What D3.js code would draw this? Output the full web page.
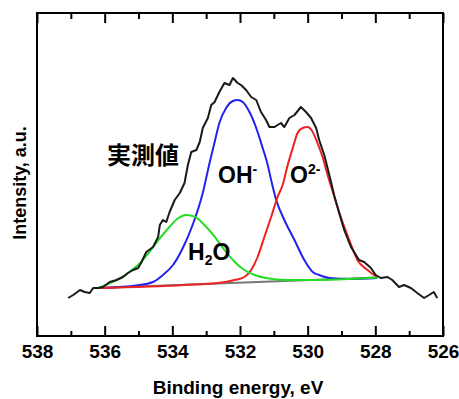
<!DOCTYPE html>
<html>
<head>
<meta charset="utf-8">
<script src="https://cdn.jsdelivr.net/npm/d3@7"></script>
<style>
  body { margin: 0; background: #fff; }
  svg text { font-family: "Liberation Sans", Arial, sans-serif; font-weight: bold; fill: #000; }
</style>
</head>
<body>
<svg id="chart" width="459" height="399"></svg>
<script>
// measured spectrum (binding energy in eV, intensity in a.u.)
const measE = [537.08, 536.93, 536.73, 536.59, 536.44, 536.34, 536.19, 536.05, 535.85, 535.65,
  535.46, 535.31, 535.16, 535.01, 534.91, 534.77, 534.57, 534.42, 534.37, 534.28,
  534.18, 534.08, 533.93, 533.78, 533.64, 533.54, 533.44, 533.29, 533.19, 533.10,
  532.95, 532.85, 532.75, 532.61, 532.46, 532.31, 532.21, 532.07, 531.97, 531.82,
  531.67, 531.52, 531.38, 531.23, 531.13, 530.98, 530.89, 530.79, 530.69, 530.54,
  530.39, 530.20, 530.05, 529.90, 529.75, 529.66, 529.51, 529.36, 529.21, 529.07,
  528.92, 528.72, 528.48, 528.33, 528.13, 527.99, 527.84, 527.64, 527.50, 527.30,
  527.15, 526.95, 526.76, 526.56, 526.41, 526.27, 526.17];
const measI = [38, 41, 46, 44, 43, 48, 48, 49, 54, 56,
  59, 63, 66, 68, 74, 84, 89, 99, 111, 116,
  114, 124, 136, 143, 153, 171, 184, 186, 194, 208,
  218, 231, 234, 244, 253, 251, 258, 253, 251, 246,
  239, 236, 224, 216, 209, 209, 211, 213, 209, 218,
  221, 229, 224, 218, 208, 196, 181, 161, 140, 123,
  106, 89, 76, 74, 68, 61, 58, 59, 56, 49,
  51, 48, 43, 38, 41, 44, 38];

// fitted components (peak + background)
const ohE = [536.2, 535.55, 535.06, 534.57, 534.28, 533.98, 533.69, 533.39, 533.10, 532.90,
  532.75, 532.61, 532.41, 532.21, 532.07, 531.92, 531.72, 531.52, 531.33, 531.18,
  531.08, 530.93, 530.69, 530.39, 530.10, 529.85, 529.66, 529.36, 528.77, 527.95];
const ohI = [48, 49, 50.5, 54, 61, 71, 88, 112, 143, 173,
  194, 213, 228, 235, 236, 234, 224, 208, 188, 171,
  156, 136, 116, 96, 76, 64, 61, 58, 57, 58];

const o2E = [536.2, 533.64, 532.65, 532.16, 531.87, 531.67, 531.48, 531.28, 531.08, 530.89,
  530.74, 530.59, 530.44, 530.30, 530.15, 530.00, 529.85, 529.71, 529.56, 529.41,
  529.21, 529.02, 528.77, 528.53, 528.23, 527.94];
const o2I = [48, 51, 53, 56, 59, 66, 79, 99, 119, 139,
  151, 171, 188, 203, 208, 209, 204, 193, 179, 161,
  139, 119, 96, 76, 66, 58.5];

const h2oE = [536.2, 535.85, 535.55, 535.26, 534.96, 534.67, 534.37, 534.08, 533.83, 533.58,
  533.34, 533.05, 532.75, 532.46, 532.16, 531.87, 531.57, 531.18, 530.69, 529.80,
  528.77, 527.94];
const h2oI = [48, 52.7, 57.7, 64.3, 72.7, 84.3, 97.7, 109.3, 117.7, 121,
  119.3, 111, 99.3, 86, 74.3, 66, 61, 57.7, 56, 56,
  57, 58.5];

const bgE = [536.2, 527.94];
const bgI = [48, 58.5];

const majorTicks = [538, 536, 534, 532, 530, 528, 526];
const minorTicks = [537, 535, 533, 531, 529, 527];

const margin = { top: 13, right: 16, bottom: 63, left: 37 };
const W = 459, H = 399;
const w = W - margin.left - margin.right;
const h = H - margin.top - margin.bottom;

const svg = d3.select("#chart");
const g = svg.append("g").attr("transform", `translate(${margin.left},${margin.top})`);

const x = d3.scaleLinear().domain([538, 526]).range([0, w]);
const y = d3.scaleLinear().domain([0, 323]).range([h, 0]);

const zip = (xs, ys) => xs.map((e, i) => [e, ys[i]]);

const smooth = d3.line().x((d) => x(d[0])).y((d) => y(d[1])).curve(d3.curveMonotoneX);
const raw = d3.line().x((d) => x(d[0])).y((d) => y(d[1]));

// background and components
g.append("path").attr("d", raw(zip(bgE, bgI)))
  .attr("fill", "none").attr("stroke", "#777").attr("stroke-width", 2);

const comps = [
  { e: ohE, i: ohI, color: "#2222ee" },
  { e: o2E, i: o2I, color: "#ee2222" },
  { e: h2oE, i: h2oI, color: "#22dd22" }
];
comps.forEach((c) => {
  g.append("path").attr("d", smooth(zip(c.e, c.i)))
    .attr("fill", "none").attr("stroke", c.color).attr("stroke-width", 2);
});

// measured data on top
g.append("path").attr("d", raw(zip(measE, measI)))
  .attr("fill", "none").attr("stroke", "#1a1a1a").attr("stroke-width", 2)
  .attr("stroke-linejoin", "round");

// axes, ticks point inward
const styleAxis = (sel) => {
  sel.select(".domain").remove();
  sel.selectAll("line").attr("stroke", "#000").attr("stroke-width", 2);
  sel.selectAll("text").style("font-size", "19px").attr("fill", "#000");
};

g.append("g").attr("transform", `translate(0,${h})`)
  .call(d3.axisBottom(x).tickValues(majorTicks).tickSize(-10).tickPadding(9).tickFormat(d3.format("d")))
  .call(styleAxis);
g.append("g").attr("transform", `translate(0,${h})`)
  .call(d3.axisBottom(x).tickValues(minorTicks).tickSize(-5).tickFormat(""))
  .call(styleAxis);
g.append("g")
  .call(d3.axisTop(x).tickValues(majorTicks).tickSize(-10).tickFormat(""))
  .call(styleAxis);
g.append("g")
  .call(d3.axisTop(x).tickValues(minorTicks).tickSize(-6).tickFormat(""))
  .call(styleAxis);

// frame
g.append("rect").attr("width", w).attr("height", h)
  .attr("fill", "none").attr("stroke", "#000").attr("stroke-width", 2);

// axis titles
svg.append("text").attr("x", margin.left + w / 2 - 2).attr("y", 394)
  .attr("text-anchor", "middle").style("font-size", "19px")
  .text("Binding energy, eV");
svg.append("text").attr("transform", "translate(26,183) rotate(-90)")
  .attr("text-anchor", "middle").style("font-size", "18px")
  .text("Intensity, a.u.");

// annotations
svg.append("text").attr("x", 107).attr("y", 164)
  .style("font-family", "'Noto Sans CJK JP', sans-serif").style("font-size", "24px")
  .text("実測値");

const oh = svg.append("text").attr("x", 218).attr("y", 183).style("font-size", "23px");
oh.append("tspan").text("OH");
oh.append("tspan").attr("dy", -9).style("font-size", "14px").text("-");

const o2 = svg.append("text").attr("x", 290).attr("y", 183).style("font-size", "23px");
o2.append("tspan").text("O");
o2.append("tspan").attr("dy", -9).style("font-size", "14px").text("2-");

const hw = svg.append("text").attr("x", 188).attr("y", 260).style("font-size", "23px");
hw.append("tspan").text("H");
hw.append("tspan").attr("dy", 5).style("font-size", "14px").text("2");
hw.append("tspan").attr("dy", -5).text("O");
</script>
</body>
</html>
